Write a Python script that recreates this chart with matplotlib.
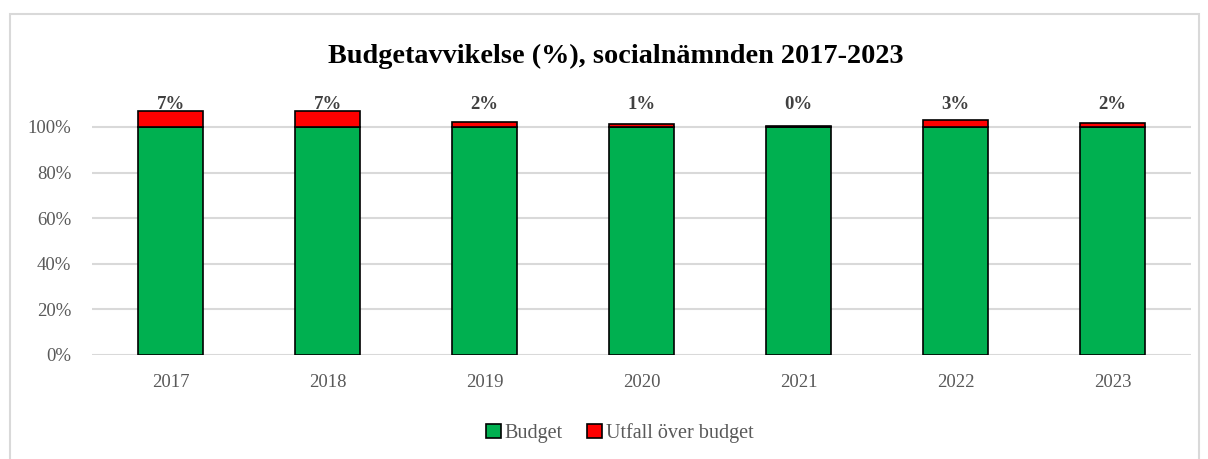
import matplotlib.pyplot as plt
from matplotlib.patches import Rectangle

# Data
years = ["2017", "2018", "2019", "2020", "2021", "2022", "2023"]
budget = [1.0, 1.0, 1.0, 1.0, 1.0, 1.0, 1.0]
over_budget = [0.068, 0.07, 0.02, 0.012, 0.003, 0.03, 0.017]
over_labels = ["7%", "7%", "2%", "1%", "0%", "3%", "2%"]
y_ticks = [0, 0.2, 0.4, 0.6, 0.8, 1.0]
y_tick_labels = ["0%", "20%", "40%", "60%", "80%", "100%"]

plt.rcParams["font.family"] = ["Liberation Serif", "DejaVu Serif"]

fig = plt.figure(figsize=(12.08, 4.59), dpi=100)
ax = fig.add_axes([0.0762, 0.2266, 0.9098, 0.5564])

# Chart frame
fig.patches.append(Rectangle((10 / 1208, -0.05), 1189 / 1208, 1 - 14 / 459 + 0.05,
                             transform=fig.transFigure, fill=False,
                             edgecolor="#d9d9d9", linewidth=1.5))

x = range(len(years))
ax.bar(x, budget, width=0.41, color="#00b050", edgecolor="black",
       linewidth=1.2, label="Budget", zorder=3)
ax.bar(x, over_budget, width=0.41, bottom=budget, color="#ff0000",
       edgecolor="black", linewidth=1.2, label="Utfall över budget", zorder=3)

for i, lab in enumerate(over_labels):
    ax.text(i, 1.062, lab, ha="center", va="bottom", fontsize=13.5,
            fontweight="bold", color="#404040")

ax.set_xlim(-0.5, len(years) - 0.5)
ax.set_ylim(0, 1.12)
ax.set_yticks(y_ticks)
ax.set_yticklabels(y_tick_labels)
ax.set_xticks(list(x))
ax.set_xticklabels(years)
ax.tick_params(axis="both", length=0, labelsize=13.5, labelcolor="#595959")
ax.tick_params(axis="x", pad=14)
ax.tick_params(axis="y", pad=15)
ax.grid(axis="y", color="#d9d9d9", linewidth=1.5, zorder=0)
for s in ax.spines.values():
    s.set_visible(False)

fig.text(616 / 1208, 1 - 56 / 459, "Budgetavvikelse (%), socialnämnden 2017-2023",
         ha="center", va="center", fontsize=20.3, fontweight="bold", color="black")

leg = fig.legend(loc="center", bbox_to_anchor=(0.513, 1 - 433 / 459), ncol=2,
                 frameon=False, fontsize=14.5, handlelength=0.75, handleheight=0.75,
                 handletextpad=0.2, columnspacing=1.2)
for t in leg.get_texts():
    t.set_color("#595959")

fig.savefig("out.png", dpi=100)
